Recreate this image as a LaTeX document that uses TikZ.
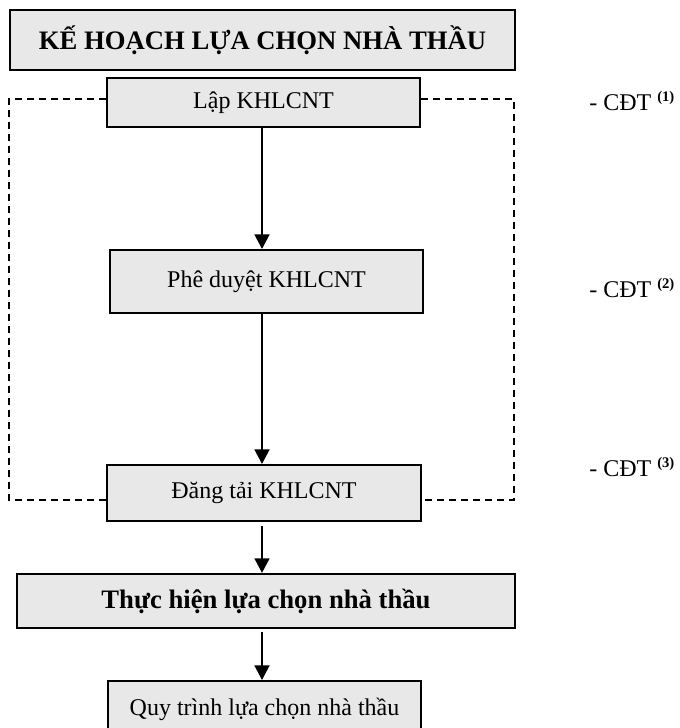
\documentclass[tikz,border=0pt]{standalone}
\usepackage{fontspec}
\setmainfont{Liberation Serif}
\usetikzlibrary{arrows.meta}
\definecolor{boxgray}{RGB}{232,232,232}
\begin{document}
\begin{tikzpicture}[x=0.75pt,y=-0.75pt,
  box/.style={draw=black, fill=boxgray, line width=1.4pt, inner sep=0pt, anchor=center,
              font=\fontsize{18}{22}\selectfont},
  boldbox/.style={box, line width=1.6pt, font=\fontsize{20}{24}\selectfont\bfseries},
  arr/.style={line width=2pt, -{Triangle[length=11pt,width=11pt]}},
  dashline/.style={line width=1.3pt, dash pattern=on 5.5pt off 3.5pt},
  cdt/.style={anchor=west, inner sep=0pt, font=\fontsize{18}{22}\selectfont}]
\useasboundingbox (0,0) rectangle (680,728);
\newcommand{\supnum}[1]{\raisebox{0.75ex}{\fontsize{11}{13}\selectfont\bfseries (#1)}}

\node[boldbox, minimum width=378.75pt, minimum height=45pt] (title) at (262.5,40) {KẾ HOẠCH LỰA CHỌN NHÀ THẦU};
\node[box, minimum width=234.75pt, minimum height=36.75pt] (lap) at (263.5,102.5) {Lập KHLCNT};
\node[box, minimum width=234.75pt, minimum height=47.25pt] (phe) at (266.5,281.5) {Phê duyệt KHLCNT};
\node[box, minimum width=235.5pt, minimum height=42pt] (dang) at (264,493) {Đăng tải KHLCNT};
\node[boldbox, minimum width=373.5pt, minimum height=40.5pt] (thuc) at (266,601) {Thực hiện lựa chọn nhà thầu};
\node[box, minimum width=234.75pt, minimum height=42pt] (quy) at (264.5,709) {Quy trình lựa chọn nhà thầu};

\node[cdt] (c1) at (589,101) {- CĐT \supnum{1}};
\node[cdt] (c2) at (589,288) {- CĐT \supnum{2}};
\node[cdt] (c3) at (589,467) {- CĐT \supnum{3}};

\coordinate (ax) at (262,0);
\coordinate (tl) at (9,99);
\coordinate (bl) at (9,500);
\coordinate (tr) at (514,99);
\coordinate (br) at (514,500);

\draw[dashline] (lap.west |- tl) -- (tl) -- (bl) -- (dang.west |- bl);
\draw[dashline] (lap.east |- tr) -- (tr) -- (br) -- (dang.east |- br);

\draw[arr] (ax |- lap.south) -- (ax |- phe.north);
\draw[arr] (ax |- phe.south) -- (ax |- dang.north);
\draw[arr, shorten <=3pt] (ax |- dang.south) -- (ax |- thuc.north);
\draw[arr, shorten <=2pt] (ax |- thuc.south) -- (ax |- quy.north);
\end{tikzpicture}
\end{document}
